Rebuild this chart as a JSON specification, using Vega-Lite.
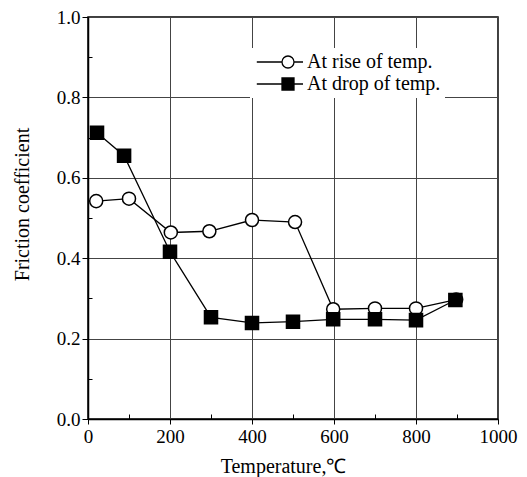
{
  "$schema": "https://vega.github.io/schema/vega-lite/v6.json",
  "autosize": {"type": "none"},
  "width": 410,
  "height": 402,
  "padding": {"left": 88, "top": 17, "right": 29, "bottom": 58},
  "background": "white",
  "config": {
    "view": {"stroke": "black", "strokeWidth": 1.5},
    "font": "Liberation Serif, Times New Roman, serif",
    "axis": {
      "labelFont": "Liberation Serif, Times New Roman, serif",
      "titleFont": "Liberation Serif, Times New Roman, serif",
      "labelColor": "black",
      "titleColor": "black",
      "titleFontWeight": "normal",
      "domainColor": "black",
      "domainWidth": 1.5,
      "tickColor": "black",
      "tickWidth": 1,
      "gridColor": "#444",
      "gridWidth": 1
    },
    "legend": {"labelFont": "Liberation Serif, Times New Roman, serif"}
  },
  "data": {
    "values": [
      {"temp": 20, "mu": 0.542, "series": "At rise of temp."},
      {"temp": 100, "mu": 0.548, "series": "At rise of temp."},
      {"temp": 202, "mu": 0.464, "series": "At rise of temp."},
      {"temp": 296, "mu": 0.467, "series": "At rise of temp."},
      {"temp": 400, "mu": 0.495, "series": "At rise of temp."},
      {"temp": 505, "mu": 0.490, "series": "At rise of temp."},
      {"temp": 598, "mu": 0.273, "series": "At rise of temp."},
      {"temp": 700, "mu": 0.275, "series": "At rise of temp."},
      {"temp": 800, "mu": 0.275, "series": "At rise of temp."},
      {"temp": 898, "mu": 0.297, "series": "At rise of temp."},
      {"temp": 22, "mu": 0.712, "series": "At drop of temp."},
      {"temp": 88, "mu": 0.655, "series": "At drop of temp."},
      {"temp": 200, "mu": 0.416, "series": "At drop of temp."},
      {"temp": 300, "mu": 0.253, "series": "At drop of temp."},
      {"temp": 400, "mu": 0.239, "series": "At drop of temp."},
      {"temp": 500, "mu": 0.242, "series": "At drop of temp."},
      {"temp": 598, "mu": 0.248, "series": "At drop of temp."},
      {"temp": 700, "mu": 0.248, "series": "At drop of temp."},
      {"temp": 800, "mu": 0.246, "series": "At drop of temp."},
      {"temp": 896, "mu": 0.296, "series": "At drop of temp."}
    ]
  },
  "encoding": {
    "x": {
      "field": "temp",
      "type": "quantitative",
      "scale": {"domain": [0, 1000], "nice": false},
      "axis": {
        "title": "Temperature,℃",
        "values": [0, 100, 200, 300, 400, 500, 600, 700, 800, 900, 1000],
        "format": "d",
        "labelExpr": "datum.value % 200 === 0 ? datum.label : ''",
        "labelFontSize": 19,
        "labelPadding": 3,
        "labelFlush": false,
        "labelOverlap": false,
        "tickSize": {"condition": {"test": "datum.value % 200 === 0", "value": 5}, "value": -5},
        "gridOpacity": {"condition": {"test": "datum.value % 200 === 0", "value": 1}, "value": 0},
        "titleFontSize": 20,
        "titlePadding": 10,
        "titleX": 195
      }
    },
    "y": {
      "field": "mu",
      "type": "quantitative",
      "scale": {"domain": [0, 1], "nice": false},
      "axis": {
        "title": "Friction coefficient",
        "values": [0, 0.1, 0.2, 0.3, 0.4, 0.5, 0.6, 0.7, 0.8, 0.9, 1.0],
        "format": ".1f",
        "labelExpr": "abs(datum.value * 5 - round(datum.value * 5)) < 0.001 ? datum.label : ''",
        "labelFontSize": 19,
        "labelPadding": 2,
        "labelFlush": false,
        "labelOverlap": false,
        "tickSize": {"condition": {"test": "abs(datum.value * 5 - round(datum.value * 5)) < 0.001", "value": 6}, "value": -4},
        "gridOpacity": {"condition": {"test": "abs(datum.value * 5 - round(datum.value * 5)) < 0.001", "value": 1}, "value": 0},
        "titleFontSize": 20,
        "titlePadding": 24,
        "titleY": 187
      }
    }
  },
  "layer": [
    {
      "mark": {"type": "line", "color": "black", "strokeWidth": 1.3},
      "encoding": {"detail": {"field": "series"}}
    },
    {
      "mark": {"type": "point", "strokeWidth": 1.5, "stroke": "black", "opacity": 1, "size": 170},
      "encoding": {
        "shape": {"condition": {"test": "datum.series === 'At rise of temp.'", "value": "circle"}, "value": "square"},
        "fill": {
          "field": "series",
          "type": "nominal",
          "scale": {"domain": ["At rise of temp.", "At drop of temp."], "range": ["white", "black"]},
          "legend": {
            "title": null,
            "orient": "none",
            "legendX": 162,
            "legendY": 31,
            "padding": 4,
            "fillColor": "white",
            "symbolSize": 144,
            "symbolOffset": 24,
            "labelOffset": 9,
            "rowPadding": 2,
            "labelFontSize": 20,
            "labelColor": "black",
            "symbolStrokeColor": "black",
            "symbolStrokeWidth": 1.3,
            "symbolOpacity": 1,
            "encoding": {
              "symbols": {
                "shape": {"condition": {"test": "datum.value === 'At rise of temp.'", "value": "M-5.2,0H-1M1,0H2.5M-1,0A1,1 0 1,0 1,0A1,1 0 1,0 -1,0Z"}, "value": "M-5.2,0H-1M1,0H2.5M-1,-1H1V1H-1Z"},
                "stroke": {"value": "black"},
                "strokeWidth": {"value": 1.3},
                "opacity": {"value": 1}
              }
            }
          }
        }
      }
    }
  ]
}
